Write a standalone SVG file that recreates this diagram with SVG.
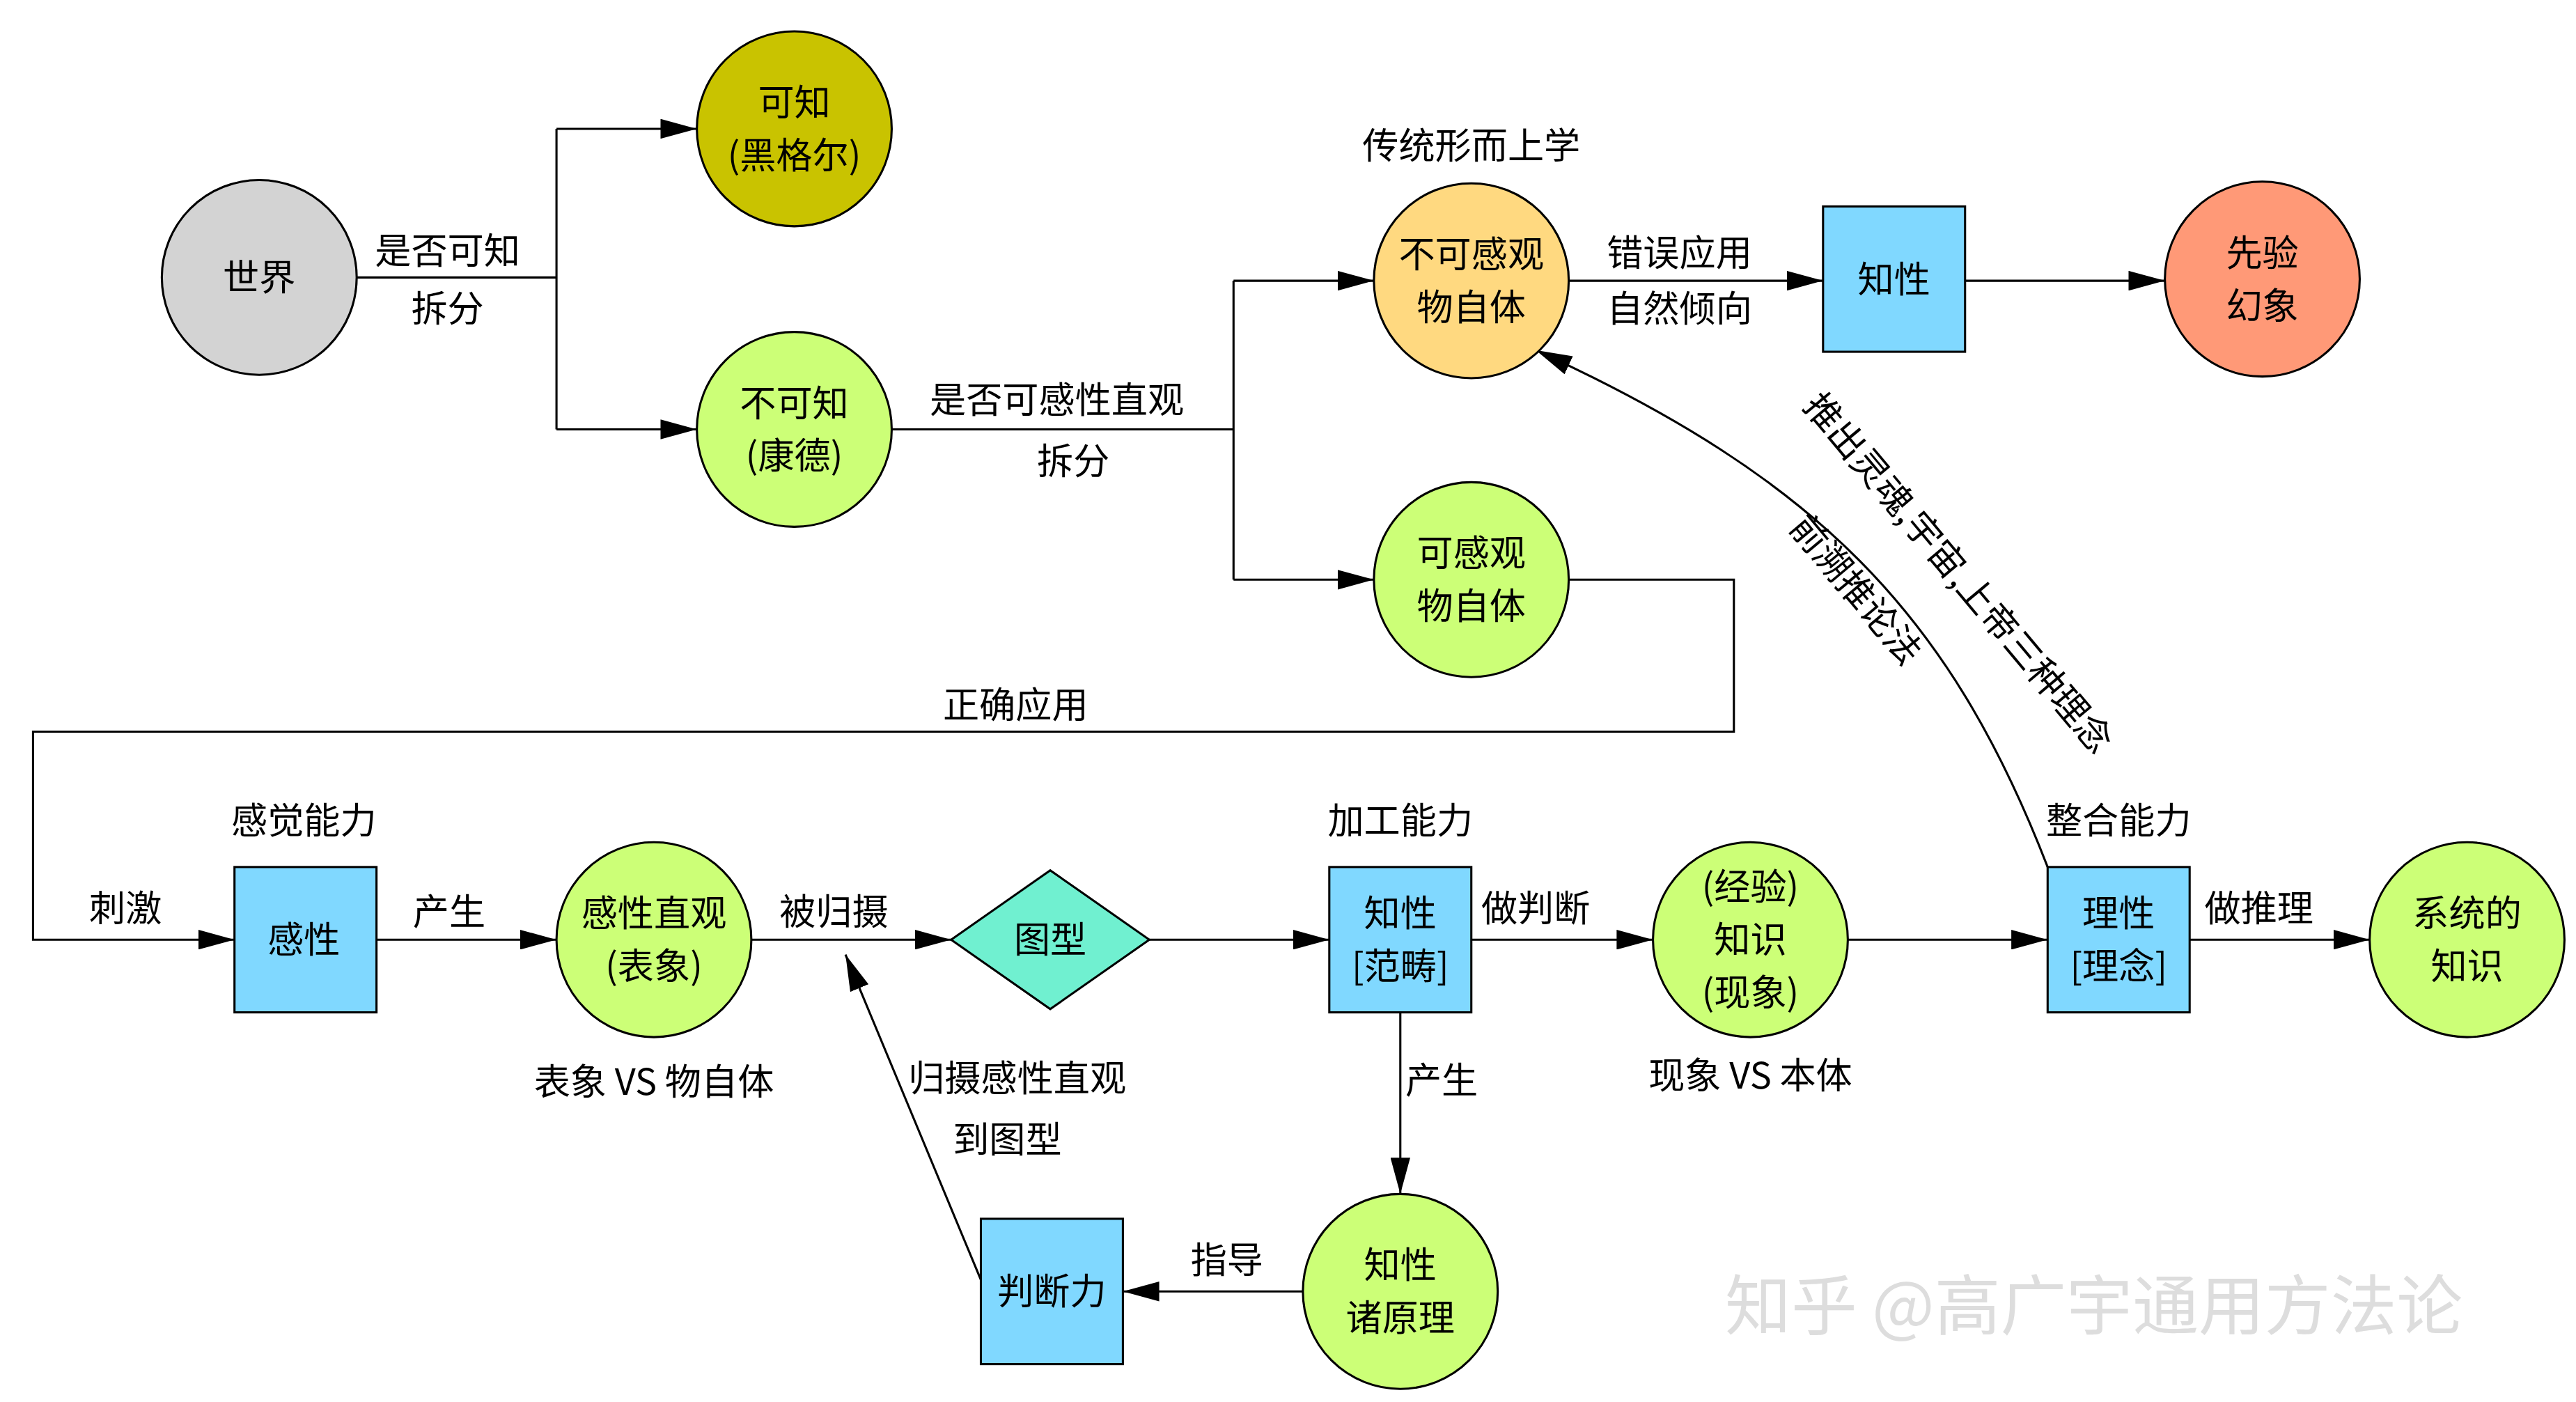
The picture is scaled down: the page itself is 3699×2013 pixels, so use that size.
<svg xmlns="http://www.w3.org/2000/svg" width="3699" height="2013" viewBox="0 0 3699 2013">
<style>
.n{stroke:#000;stroke-width:1.3}
.t{font-family:"Noto Sans CJK SC",sans-serif;font-size:22px;text-anchor:middle;fill:#000}
.c{fill:none;stroke:#000;stroke-width:1.3}
.g{fill:#ccff77}.b{fill:#80d8ff}
</style>
<defs><marker id="a" markerUnits="userSpaceOnUse" markerWidth="22" markerHeight="12" refX="22" refY="6" orient="auto"><path d="M0,0L22,6L0,12z" fill="#000"/></marker></defs>
<rect width="3699" height="2013" fill="#fff"/>
<g transform="scale(2.3712)">
<g id="connectors">
<path class="c" d="M216,168H337M337,78V260M337,78H422" marker-end="url(#a)"/>
<path class="c" d="M337,260H422" marker-end="url(#a)"/>
<path class="c" d="M540,260H747M747,170V351M747,170H832" marker-end="url(#a)"/>
<path class="c" d="M747,351H832" marker-end="url(#a)"/>
<path class="c" d="M950,170H1104" marker-end="url(#a)"/>
<path class="c" d="M1190,170H1311" marker-end="url(#a)"/>
<path class="c" d="M950,351H1050V443H20V569H142" marker-end="url(#a)"/>
<path class="c" d="M228,569H337" marker-end="url(#a)"/>
<path class="c" d="M455,569H576" marker-end="url(#a)"/>
<path class="c" d="M696,569H805" marker-end="url(#a)"/>
<path class="c" d="M891,569H1001" marker-end="url(#a)"/>
<path class="c" d="M1119,569H1240" marker-end="url(#a)"/>
<path class="c" d="M1326,569H1435" marker-end="url(#a)"/>
<path class="c" d="M848,613V723" marker-end="url(#a)"/>
<path class="c" d="M789,782H680" marker-end="url(#a)"/>
<path class="c" d="M594,775L512,578" marker-end="url(#a)"/>
<path class="c" d="M1240,525C1180,370 1100,290 930,212" marker-end="url(#a)"/>
<text class="t" x="271" y="160">是否可知</text>
<text class="t" x="271" y="195">拆分</text>
<text class="t" x="640" y="250">是否可感性直观</text>
<text class="t" x="650" y="287">拆分</text>
<text class="t" x="1017" y="161">错误应用</text>
<text class="t" x="1017" y="195">自然倾向</text>
<text class="t" x="615" y="435">正确应用</text>
<text class="t" x="76" y="558">刺激</text>
<text class="t" x="272" y="560">产生</text>
<text class="t" x="505" y="560">被归摄</text>
<text class="t" x="930" y="558">做判断</text>
<text class="t" x="1368" y="558">做推理</text>
<text class="t" x="873" y="662">产生</text>
<text class="t" x="743" y="771">指导</text>
<text class="t" x="616" y="661">归摄感性直观</text>
<text class="t" x="610" y="698">到图型</text>
<text class="t" transform="translate(1180,352) rotate(50)">推出灵魂,宇宙,上帝三种理念</text>
<text class="t" transform="translate(1118,362) rotate(50)">前溯推论法</text>
</g>
<g id="n1"><circle class="n" cx="157" cy="168" r="59" fill="#d3d3d3"/><text class="t" x="157" y="176">世界</text></g>
<g id="n2"><circle class="n" cx="481" cy="78" r="59" fill="#c9c300"/><text class="t" x="481" y="70">可知</text><text class="t" x="481" y="102">(黑格尔)</text></g>
<g id="n3"><circle class="n g" cx="481" cy="260" r="59"/><text class="t" x="481" y="252">不可知</text><text class="t" x="481" y="284">(康德)</text></g>
<g id="n4"><circle class="n" cx="891" cy="170" r="59" fill="#ffd980"/><text class="t" x="891" y="162">不可感观</text><text class="t" x="891" y="194">物自体</text><text class="t" x="891" y="96">传统形而上学</text></g>
<g id="n5"><circle class="n g" cx="891" cy="351" r="59"/><text class="t" x="891" y="343">可感观</text><text class="t" x="891" y="375">物自体</text></g>
<g id="n6"><rect class="n b" x="1104" y="125" width="86" height="88"/><text class="t" x="1147" y="177">知性</text></g>
<g id="n7"><circle class="n" cx="1370" cy="169" r="59" fill="#ff9977"/><text class="t" x="1370" y="161">先验</text><text class="t" x="1370" y="193">幻象</text></g>
<g id="n8"><rect class="n b" x="142" y="525" width="86" height="88"/><text class="t" x="184" y="577">感性</text><text class="t" x="184" y="505">感觉能力</text></g>
<g id="n9"><circle class="n g" cx="396" cy="569" r="59"/><text class="t" x="396" y="561">感性直观</text><text class="t" x="396" y="593">(表象)</text><text class="t" x="396" y="663">表象 VS 物自体</text></g>
<g id="n10"><path class="n" d="M576,569L636,527L696,569L636,611z" fill="#70f0d0"/><text class="t" x="636" y="577">图型</text></g>
<g id="n11"><rect class="n b" x="805" y="525" width="86" height="88"/><text class="t" x="848" y="561">知性</text><text class="t" x="848" y="593">[范畴]</text><text class="t" x="848" y="505">加工能力</text></g>
<g id="n12"><circle class="n g" cx="1060" cy="569" r="59"/><text class="t" x="1060" y="545">(经验)</text><text class="t" x="1060" y="577">知识</text><text class="t" x="1060" y="609">(现象)</text><text class="t" x="1060" y="659">现象 VS 本体</text></g>
<g id="n13"><rect class="n b" x="1240" y="525" width="86" height="88"/><text class="t" x="1283" y="561">理性</text><text class="t" x="1283" y="593">[理念]</text><text class="t" x="1283" y="505">整合能力</text></g>
<g id="n14"><circle class="n g" cx="1494" cy="569" r="59"/><text class="t" x="1494" y="561">系统的</text><text class="t" x="1494" y="593">知识</text></g>
<g id="n15"><circle class="n g" cx="848" cy="782" r="59"/><text class="t" x="848" y="774">知性</text><text class="t" x="848" y="806">诸原理</text></g>
<g id="n16"><rect class="n b" x="594" y="738" width="86" height="88"/><text class="t" x="637" y="790">判断力</text></g>
<text x="1268" y="805" style="font-family:'Noto Sans CJK SC',sans-serif;font-size:40px;text-anchor:middle;fill:#ddd">知乎 @高广宇通用方法论</text>
</g>
</svg>
